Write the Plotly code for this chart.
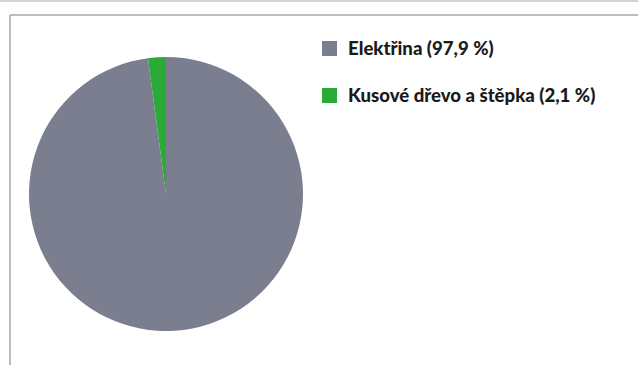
import plotly.graph_objects as go

# Share of heating sources
labels = ["Elektřina", "Kusové dřevo a štěpka"]
shares = [97.9, 2.1]
colors = ["#7b7e8e", "#2aaa36"]

W, H = 638, 365

fig = go.Figure(
    go.Pie(
        labels=labels,
        values=shares,
        marker=dict(colors=colors, line=dict(width=0)),
        sort=False,
        direction="clockwise",
        rotation=0,
        textinfo="none",
        hoverinfo="label+percent",
        showlegend=False,
        domain=dict(x=[28 / W, 304 / W], y=[(H - 331) / H, (H - 57) / H]),
    )
)

shapes = [
    # outer frame
    dict(type="line", xref="paper", yref="paper", x0=0, x1=1, y0=1 - 1 / H, y1=1 - 1 / H,
         line=dict(color="#c4c6ca", width=1.5)),
    dict(type="line", xref="paper", yref="paper", x0=10 / W, x1=1, y0=1 - 15 / H, y1=1 - 15 / H,
         line=dict(color="#a4a7ad", width=1.5)),
    dict(type="line", xref="paper", yref="paper", x0=10 / W, x1=10 / W, y0=0, y1=1 - 15 / H,
         line=dict(color="#a4a7ad", width=1.5)),
]

annotations = []
legend_tops = [41, 88]
for lab, val, col, top in zip(labels, shares, colors, legend_tops):
    shapes.append(dict(
        type="rect", xref="paper", yref="paper",
        x0=322 / W, x1=337 / W, y0=1 - (top + 15) / H, y1=1 - top / H,
        fillcolor=col, line=dict(width=0),
    ))
    annotations.append(dict(
        xref="paper", yref="paper", x=346 / W, y=1 - (top + 7.5) / H,
        xanchor="left", yanchor="middle", showarrow=False,
        text="%s (%s %%)" % (lab, f"{val:.1f}".replace(".", ",")),
        font=dict(family="Lato, Carlito, Calibri, sans-serif", size=18.6, weight=900,
                  color="#1a1a1a"),
    ))

fig.update_layout(
    width=W, height=H,
    margin=dict(l=0, r=0, t=0, b=0),
    paper_bgcolor="white",
    plot_bgcolor="white",
    shapes=shapes,
    annotations=annotations,
)

fig.write_html("out.html")
